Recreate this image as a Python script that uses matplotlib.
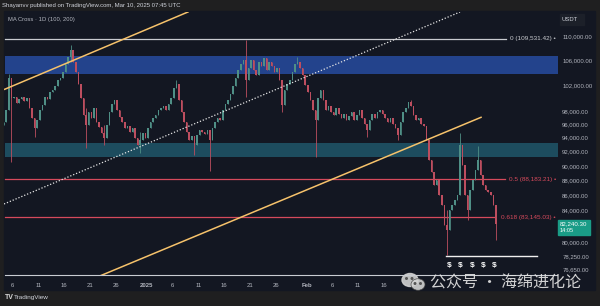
import numpy as np
import matplotlib
matplotlib.use("Agg")
import matplotlib.pyplot as plt
from matplotlib.patches import Rectangle, Ellipse
from matplotlib.transforms import blended_transform_factory
from matplotlib.ticker import FixedLocator, NullLocator

# BTC/USDT 12h candles, Dec 4 2024 -> Mar 10 2025 (day 0 = Dec 1 2024)
first_day = 3.0
candle_len = 0.5
first_open = 95870
closes = [
    96320, 98130, 103110, 99970, 100120, 99190, 99810, 100120, 99500, 99970,
    98430, 96920, 95430, 96620, 98130, 98890, 100120, 99810, 100900, 101210,
    101840, 102790, 103110, 104070, 105370, 106510, 107680, 105690, 104070, 102150,
    99970, 97370, 95870, 97820, 96920, 98430, 96320, 95580, 94690, 93960,
    95870, 97820, 99040, 99660, 98130, 97070, 96320, 95430, 95730, 94840,
    95430, 93960, 92950, 93670, 94690, 93960, 95430, 96320, 96920, 97370,
    98130, 98430, 98730, 98130, 99040, 99970, 101530, 102150, 99660, 97820,
    96320, 94840, 93670, 94250, 92950, 94400, 95130, 94840, 94550, 95130,
    93670, 95430, 96320, 96920, 96620, 98130, 99040, 99660, 100590, 101840,
    103110, 104390, 105370, 106020, 102790, 104710, 106020, 104390, 103590, 105690,
    105040, 106350, 104390, 105690, 105040, 104070, 104710, 102790, 98890, 101210,
    102150, 102790, 104070, 105370, 105690, 104710, 103590, 102000, 100900, 99660,
    98130, 96620, 99970, 101210, 99660, 98130, 98730, 97820, 97370, 98430,
    97520, 96920, 97520, 96620, 97220, 97820, 96620, 97370, 98130, 96920,
    96020, 95130, 96620, 97520, 96920, 97820, 98130, 97520, 96920, 96320,
    96920, 96020, 95430, 94400, 96320, 97820, 98430, 99350, 98730, 97370,
    96620, 96920, 96020, 95730, 93670, 90820, 89150, 87370, 88050, 86030,
    84710, 82120, 81490, 84050, 84710, 85370, 86030, 92950, 90120, 86030,
    84050, 86700, 88050, 89420, 90820, 88730, 87370, 86700, 86430, 86030,
    84710, 82240.30,
]
# long wicks that stand out: candle index, high, low
wick_idx = [2, 3, 12, 26, 32, 39, 53, 67, 74, 80, 94, 108, 114, 121, 141, 153, 158, 172, 177, 180, 184, 191]
wick_high = [103740, 99970, 96620, 108510, 98430, 95870, 94840, 102790, 94250, 95130,
             109360, 102790, 106510, 98130, 96020, 95430, 99660, 84050, 94690, 86030, 92810, 84710]
wick_low = [98130, 90540, 94110, 105690, 92520, 92950, 91800, 101530, 91520, 89290,
            100120, 97820, 105370, 91240, 94110, 93670, 98730, 78400, 86030, 82760, 90820, 80240]

# drawings
blue_zone = [103700, 106680]
teal_zone = [91280, 93195]
fib_levels = ["0", "0.5", "0.618"]
fib_prices = [109531.42, 88183.21, 83145.03]
upper_line_days = [3.45, 39.0]
upper_line_prices = [101320, 114199]
lower_line_days = [21.94, 95.85]
lower_line_prices = [75900, 97020]
mid_line_days = [3.32, 91.77]
mid_line_prices = [84840, 114199]
support_days = [89.06, 106.7]
support_price = 78270

last_price = "82,240.30"
countdown = "14:05"
price_ticks = [110000, 106000, 102000, 98000, 96000, 94000, 92000, 90000,
               88000, 86000, 84000, 80000, 78250, 76650]
time_ticks = [5, 10, 15, 20, 25, 31, 36, 41, 46, 51, 56, 62, 67, 72, 77]
time_labels = ["6", "11", "16", "21", "26", "2025", "6", "11", "16", "21", "26",
               "Feb", "6", "11", "16"]

plt.rcParams['font.family'] = ['Liberation Sans', 'DejaVu Sans']

bg = '#131722'
up_c = '#4f8f86'
dn_c = '#bd4e5f'
txt_c = '#b2b5be'

fig = plt.figure(figsize=(6, 3.06), dpi=100, facecolor='#1f1f20')
W, H = 600, 306
fig.patches.append(Rectangle((4 / W, 1 - 290 / H), 591 / W, 279 / H,
                             transform=fig.transFigure, color=bg, zorder=-10))

ax = fig.add_axes([4 / W, 1 - 275 / H, 554 / W, 263 / H])
ax.set_facecolor(bg)
ax.set_yscale('log')
ax.set_xlim(3.32, 110.78)
ax.set_ylim(76006, 114199)
for s in ax.spines.values():
    s.set_visible(False)

# zones
ax.axhspan(blue_zone[0], blue_zone[1], xmin=(3.5 - 3.32) / (110.78 - 3.32), color='#23438c', lw=0, zorder=1)
ax.axhspan(teal_zone[0], teal_zone[1], xmin=(3.5 - 3.32) / (110.78 - 3.32), color='#1d4c5e', lw=0, zorder=1)

# candles
opens = [first_open] + closes[:-1]
n = len(closes)
xs = first_day + candle_len * (np.arange(n) + 0.5)
highs = [max(o, c) for o, c in zip(opens, closes)]
lows = [min(o, c) for o, c in zip(opens, closes)]
for k, i in enumerate(wick_idx):
    highs[i] = max(highs[i], wick_high[k])
    lows[i] = min(lows[i], wick_low[k])
cols = [up_c if c >= o else dn_c for o, c in zip(opens, closes)]
ax.vlines(xs, lows, highs, colors=cols, lw=0.6, zorder=3)
bot = [min(o, c) for o, c in zip(opens, closes)]
hgt = [max(abs(c - o), 60) for o, c in zip(opens, closes)]
ax.bar(xs, hgt, bottom=bot, width=0.3, color=cols, lw=0, zorder=3)

# fib lines
trans = blended_transform_factory(ax.transAxes, ax.transData)
fib_ends = [100.7, 100.5, 98.6]
fib_cols = ['#c9cbd0', '#d64a5c', '#d64a5c']
for lab, p, e, c in zip(fib_levels, fib_prices, fib_ends, fib_cols):
    ax.plot([3.5, e], [p, p], color=c, lw=0.9, zorder=2)
    ax.text(0.996, p, f"{lab} ({p:,.2f}) \u2022", transform=trans, ha='right', va='center',
            fontsize=4.6, color=c)

# channel
ax.plot(upper_line_days, upper_line_prices, color='#f6c26b', lw=1.1, zorder=4)
ax.plot(lower_line_days, lower_line_prices, color='#f6c26b', lw=1.1, zorder=4)
ax.plot(mid_line_days, mid_line_prices, color='#e6e6e6', lw=0.9, ls=(0, (1, 1.5)), zorder=4)

# support with $ marks
ax.plot(support_days, [support_price] * 2, color='#f0f0f0', lw=1.0, zorder=4)
for d in [89.7, 91.8, 94.1, 96.3, 98.4]:
    ax.text(d, support_price * 0.991, "$", ha='center', va='top', fontsize=6,
            color='white', fontweight='bold')

# axes ticks
ax.yaxis.tick_right()
ax.yaxis.set_major_locator(FixedLocator(price_ticks))
ax.yaxis.set_minor_locator(NullLocator())
ax.set_yticklabels([f"{v:,.2f}" for v in price_ticks])
ax.tick_params(axis='y', length=0, pad=3, labelsize=4.3, labelcolor=txt_c)
ax.set_xticks(time_ticks)
ax.set_xticklabels(time_labels)
for t in ax.get_xticklabels():
    if t.get_text() in ("2025", "Feb"):
        t.set_fontweight('bold')
ax.tick_params(axis='x', length=0, pad=5.5, labelsize=4.3, labelcolor=txt_c)

# overlay for header / footer / labels
ov = fig.add_axes([0, 0, 1, 1], zorder=5)
ov.set_xlim(0, W)
ov.set_ylim(H, 0)
ov.axis('off')
ov.patch.set_alpha(0)

ov.text(2, 5.5, "Shayanvv published on TradingView.com, Mar 10, 2025 07:45 UTC",
        fontsize=4.3, color='#d1d4dc', va='center')
ov.text(8, 19, "MA Cross \u00b7 1D (100, 200)", fontsize=4.2, color=txt_c, va='center')
ov.add_patch(Rectangle((560, 14), 24, 11, color='#1c2029'))
ov.text(562, 19.5, "USDT", fontsize=4.2, color='#d1d4dc', va='center')

ov.plot([5, 557], [275, 275], color='#c9ccd2', lw=0.8)

ov.add_patch(Rectangle((558, 220), 32, 14.5, color='#1a9c87'))
ov.text(560, 224, last_price, fontsize=4.4, color='white', va='center')
ov.text(560, 230.5, countdown, fontsize=4.0, color='white', va='center')

ov.text(5, 297.5, "TV", fontsize=5, color='#d9d9d9', va='center', fontweight='bold')
ov.text(14, 297.5, "TradingView", fontsize=4.6, color='#d1d4dc', va='center')

# watermark
ov.add_patch(Ellipse((410, 280), 16, 13, color='#d2d2d2', alpha=0.9))
ov.add_patch(Ellipse((418, 284.5), 14, 11.5, color='#d2d2d2', alpha=0.9, ec='#444', lw=0.5))
for ex, ey in [(406.5, 278.5), (412, 278.5), (415, 283.5), (420.5, 283.5)]:
    ov.add_patch(Ellipse((ex, ey), 1.6, 1.6, color='#555'))
ov.text(430, 283, "公众号 · 海绵进化论", fontsize=11.5, color='#e2e2e2', alpha=0.92,
        va='center', family=['Noto Sans CJK SC', 'DejaVu Sans'])

fig.savefig("out.png", dpi=100, facecolor=fig.get_facecolor())
